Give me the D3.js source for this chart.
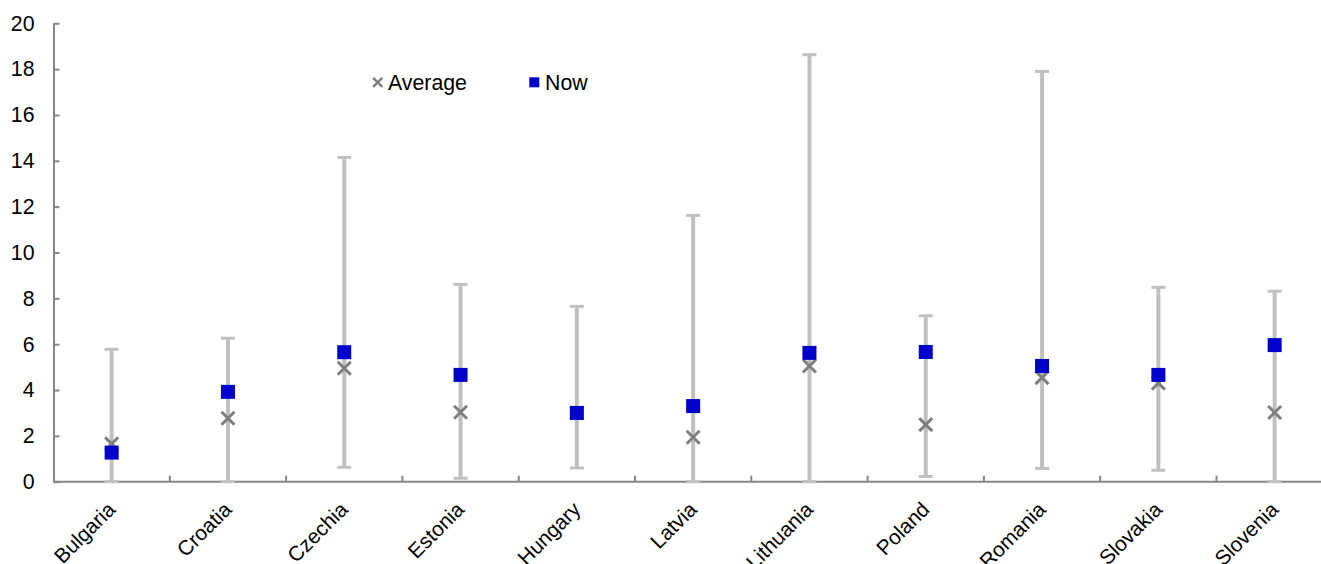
<!DOCTYPE html>
<html>
<head>
<meta charset="utf-8">
<script src="https://cdn.jsdelivr.net/npm/d3@7"></script>
<style>
  html, body { margin: 0; padding: 0; background: #fff; }
  svg { display: block; font-family: "Liberation Sans", Arial, sans-serif; }
</style>
</head>
<body>
<svg id="chart" width="1321" height="564"></svg>
<script>
const categories = ["Bulgaria", "Croatia", "Czechia", "Estonia", "Hungary", "Latvia", "Lithuania", "Poland", "Romania", "Slovakia", "Slovenia"];
const maxVals = [5.78, 6.26, 14.15, 8.61, 7.65, 11.62, 18.63, 7.24, 17.9, 8.48, 8.31];
const minVals = [0, 0, 0.63, 0.15, 0.6, 0, 0, 0.23, 0.58, 0.5, 0];
const avgVals = [1.65, 2.77, 4.95, 3.03, 3.0, 1.94, 5.05, 2.49, 4.54, 4.3, 3.02];
const nowVals = [1.27, 3.92, 5.65, 4.66, 3.0, 3.3, 5.62, 5.66, 5.05, 4.66, 5.96];
const yTicks = [0, 2, 4, 6, 8, 10, 12, 14, 16, 18, 20];
const seriesNames = ["Average", "Now"];

const FONT = "21.3px";
const LABEL_FONT = "20.8px";
const svg = d3.select("#chart");
svg.append("rect").attr("width", 1321).attr("height", 564).attr("fill", "#fff");

const x = d3.scaleBand().domain(categories).range([53.5, 53.5 + 11 * 116.3]).padding(0);
const y = d3.scaleLinear().domain([0, 20]).range([481.7, 23.3]);

const axisColor = "#878787";
const barColor = "#c0c0c0";
const avgColor = "#7f7f7f";
const nowColor = "#0000cc";

// Y axis
const yAxis = svg.append("g").attr("transform", "translate(53.5,0)")
  .call(d3.axisLeft(y).tickValues(yTicks).tickSizeInner(-6).tickSizeOuter(0).tickPadding(19));
yAxis.select(".domain").attr("stroke", axisColor).attr("stroke-width", 2);
yAxis.selectAll(".tick line").attr("stroke", axisColor).attr("stroke-width", 2);
yAxis.selectAll(".tick text").attr("fill", "#000").style("font-size", FONT)
  .style("font-family", "'Liberation Sans', Arial, sans-serif");

// X axis
const xg = svg.append("g");
xg.append("line")
  .attr("x1", x.range()[0]).attr("x2", x.range()[1])
  .attr("y1", y(0)).attr("y2", y(0))
  .attr("stroke", axisColor).attr("stroke-width", 2);
xg.selectAll("line.xt").data(categories.slice(1)).enter().append("line")
  .attr("class", "xt")
  .attr("x1", d => x(d)).attr("x2", d => x(d))
  .attr("y1", y(0)).attr("y2", y(0) - 6)
  .attr("stroke", axisColor).attr("stroke-width", 2);
xg.selectAll("text").data(categories).enter().append("text")
  .attr("transform", d => `translate(${x(d) + x.bandwidth() / 2 + 5},${y(0) + 29}) rotate(-45)`)
  .attr("text-anchor", "end")
  .attr("fill", "#000")
  .style("font-size", LABEL_FONT)
  .text(d => d);

// Error bars (range)
const bars = svg.append("g");
categories.forEach((c, i) => {
  const cx = x(c) + x.bandwidth() / 2;
  bars.append("line")
    .attr("x1", cx).attr("x2", cx)
    .attr("y1", y(minVals[i])).attr("y2", y(maxVals[i]))
    .attr("stroke", barColor).attr("stroke-width", 4);
  [minVals[i], maxVals[i]].forEach(v => {
    bars.append("line")
      .attr("x1", cx - 7).attr("x2", cx + 7)
      .attr("y1", y(v)).attr("y2", y(v))
      .attr("stroke", barColor).attr("stroke-width", 3);
  });
});

// Average markers (x)
const avgG = svg.append("g");
categories.forEach((c, i) => {
  const cx = x(c) + x.bandwidth() / 2;
  const cy = y(avgVals[i]);
  const s = 6.5;
  avgG.append("path")
    .attr("d", `M${cx - s},${cy - s}L${cx + s},${cy + s}M${cx - s},${cy + s}L${cx + s},${cy - s}`)
    .attr("stroke", avgColor).attr("stroke-width", 3).attr("fill", "none");
});

// Now markers (squares)
svg.append("g").selectAll("rect").data(categories).enter().append("rect")
  .attr("x", d => x(d) + x.bandwidth() / 2 - 7)
  .attr("y", (d, i) => y(nowVals[i]) - 7)
  .attr("width", 14).attr("height", 14)
  .attr("fill", nowColor);

// Legend
const lg = svg.append("g");
const lx = 377.7, ly = 82.3, ls = 4.5;
lg.append("path")
  .attr("d", `M${lx - ls},${ly - ls}L${lx + ls},${ly + ls}M${lx - ls},${ly + ls}L${lx + ls},${ly - ls}`)
  .attr("stroke", avgColor).attr("stroke-width", 2.5).attr("fill", "none");
lg.append("text").attr("x", 388).attr("y", 89.5).attr("fill", "#000").style("font-size", FONT).text(seriesNames[0]);
lg.append("rect").attr("x", 529.3).attr("y", 77.3).attr("width", 10).attr("height", 10).attr("fill", nowColor);
lg.append("text").attr("x", 545).attr("y", 89.5).attr("fill", "#000").style("font-size", FONT).text(seriesNames[1]);
</script>
</body>
</html>
